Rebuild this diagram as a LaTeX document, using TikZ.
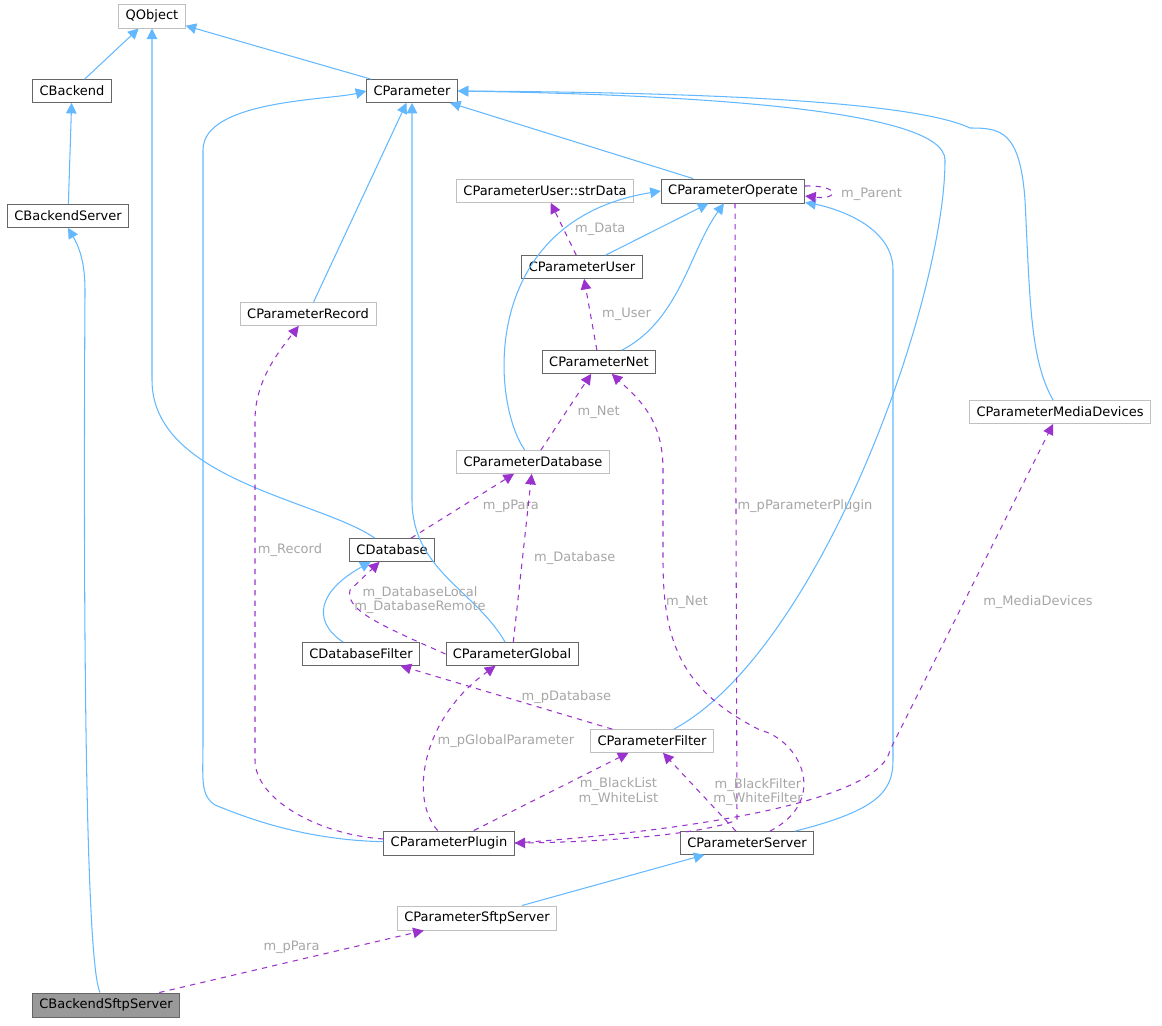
\documentclass[tikz,border=0pt]{standalone}
\usepackage{fontspec}
\setmainfont{DejaVu Sans}
\usetikzlibrary{arrows.meta}
\definecolor{inh}{HTML}{63B8FF}
\definecolor{use}{HTML}{9A32CD}
\tikzset{
  cls/.style={draw=black!60, rectangle, minimum height=0.46cm, inner xsep=4pt, font=\fontsize{7.4}{8}\selectfont},
  ucls/.style={cls, draw=black!25},
  inherit/.style={draw=inh, line width=0.6pt, -{Triangle[length=6pt,width=6pt]}},
  member/.style={draw=use, line width=0.6pt, dashed, -{Triangle[length=6pt,width=6pt]}},
  lbl/.style={text=black!35, font=\fontsize{7.4}{8.4}\selectfont, align=center},
}
\begin{document}
\begin{tikzpicture}[x=0.02cm, y=-0.02cm]
\useasboundingbox (0,0) rectangle (1162,1025);
% classes
\node[ucls] (qobj) at (152,16) {QObject};
\node[cls] (back) at (72,91) {CBackend};
\node[cls] (bserv) at (68,216) {CBackendServer};
\node[cls] (par) at (412,91) {CParameter};
\node[ucls] (sdata) at (545,191) {CParameterUser::strData};
\node[cls] (oper) at (733,191) {CParameterOperate};
\node[cls] (puser) at (582,267) {CParameterUser};
\node[ucls] (prec) at (308,314) {CParameterRecord};
\node[cls] (pnet) at (599,362) {CParameterNet};
\node[ucls] (pmed) at (1060,412) {CParameterMediaDevices};
\node[ucls] (pdb) at (533,462) {CParameterDatabase};
\node[cls] (db) at (392,550) {CDatabase};
\node[cls] (dbf) at (361,654) {CDatabaseFilter};
\node[cls] (pglob) at (512,654) {CParameterGlobal};
\node[ucls] (pfil) at (652,741) {CParameterFilter};
\node[cls] (pplug) at (449,843) {CParameterPlugin};
\node[cls] (pserv) at (747,843) {CParameterServer};
\node[ucls] (psftp) at (477,918) {CParameterSftpServer};
\node[cls, fill=black!40] (bsftp) at (106,1005) {CBackendSftpServer};
% inheritance
\draw[inherit] (back) -- (qobj);
\draw[inherit] (par) -- (qobj);
\draw[inherit] (bserv) -- (back);
\draw[inherit] (bsftp.north west) ++(68,0) .. controls (80,950) and (85,320) .. (85,290) .. controls (85,260) and (78,245) .. (bserv.south);
\draw[inherit] (oper) -- (par);
\draw[inherit] (prec) -- (par);
\draw[inherit] (puser) -- (oper);
\draw[inherit] (pnet) .. controls (680,320) and (690,250) .. (oper);
\draw[inherit] (pmed) .. controls (1030,360) and (1030,300) .. (1025,200) .. controls (1020,130) and (1000,128) .. (970,128) .. controls (900,95) and (600,92) .. (par.east);
\draw[inherit] (pdb) .. controls (490,400) and (480,220) .. (oper.west);
\draw[inherit] (db) .. controls (320,500) and (152,480) .. (152,380) -- (qobj);
\draw[inherit] (dbf) .. controls (310,620) and (320,590) .. (db);
\draw[inherit] (pglob) .. controls (475,590) and (412,570) .. (412,500) -- (par);
\draw[inherit] (pfil) .. controls (820,650) and (945,300) .. (945,160) .. controls (945,110) and (700,95) .. (par.east);
\draw[inherit] (pplug) .. controls (300,840) and (240,815) .. (215,805) .. controls (200,795) and (203,780) .. (203,740) -- (203,150) .. controls (203,100) and (330,100) .. (par.west);
\draw[inherit] (pserv) .. controls (880,810) and (893,790) .. (893,760) -- (893,270) .. controls (893,220) and (820,205) .. (oper);
\draw[inherit] (psftp) -- (pserv);
% members
\draw[member] (oper.east) ++(0,-5) .. controls (840,185) and (840,200) .. ([yshift=-0.1cm]oper.east);
\node[lbl, anchor=west] at (835,194) {m\_Parent};
\draw[member] (puser) -- (sdata) node[lbl, midway, right=3pt] {m\_Data};
\draw[member] (pnet) -- (puser) node[lbl, midway, right=3pt] {m\_User};
\draw[member] (pdb) -- (pnet) node[lbl, midway, right=3pt] {m\_Net};
\draw[member] (db) -- (pdb) node[lbl, midway, right=8pt] {m\_pPara};
\draw[member] (pglob) -- (pdb) node[lbl, midway, right=3pt] {m\_Database};
\draw[member] (pglob.west) .. controls (380,625) and (345,610) .. (350,590) -- (db);
\node[lbl] at (420,600) {m\_DatabaseLocal\\m\_DatabaseRemote};
\draw[member] (pfil) -- (dbf) node[lbl, midway, right=5pt] {m\_pDatabase};
\draw[member] (pplug) .. controls (410,800) and (420,720) .. (pglob);
\node[lbl] at (506,741) {m\_pGlobalParameter};
\draw[member] (pplug) -- (pfil) node[lbl, midway, right=12pt] {m\_BlackList\\m\_WhiteList};
\draw[member] (pplug) .. controls (320,835) and (255,800) .. (255,760) -- (255,420) .. controls (255,380) and (280,350) .. (prec);
\node[lbl] at (290,550) {m\_Record};
\draw[member] (oper) ++(2,12) -- (737,820) .. controls (700,835) and (600,842) .. (pplug.east);
\node[lbl] at (805,506) {m\_pParameterPlugin};
\draw[member] (pplug.east) .. controls (700,830) and (880,800) .. (890,750) -- (1053,424);
\node[lbl] at (1038,602) {m\_MediaDevices};
\draw[member] (pserv) -- (pfil);
\node[lbl] at (758,792) {m\_BlackFilter\\m\_WhiteFilter};
\draw[member] (pserv) .. controls (830,800) and (800,740) .. (760,730) .. controls (680,690) and (663,640) .. (663,560) -- (663,470) .. controls (663,420) and (640,400) .. (pnet);
\node[lbl] at (687,602) {m\_Net};
\draw[member] (bsftp) -- (psftp) node[lbl, midway, above=1pt] {m\_pPara};
\end{tikzpicture}
\end{document}
